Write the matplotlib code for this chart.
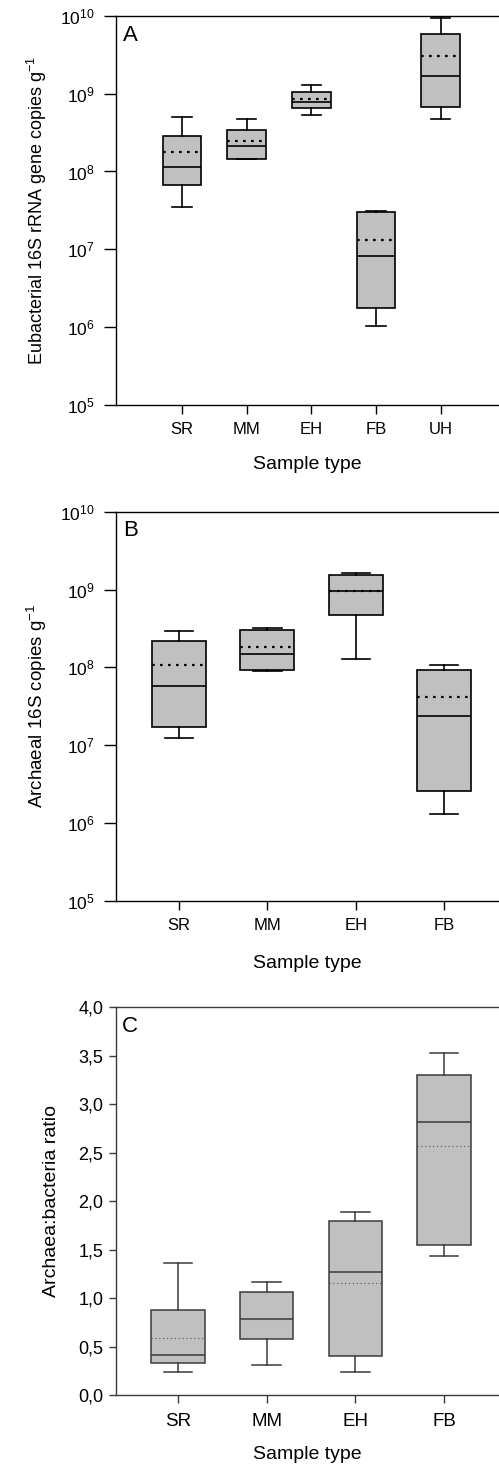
import numpy as np
import matplotlib
matplotlib.use('Agg')
import matplotlib.pyplot as plt
from matplotlib.ticker import FixedLocator, FuncFormatter

plt.rcParams['font.family'] = ['Liberation Sans', 'DejaVu Sans']
plt.rcParams['mathtext.fontset'] = 'custom'
plt.rcParams['mathtext.rm'] = 'Liberation Sans'
plt.rcParams['mathtext.it'] = 'Liberation Sans:italic'

# ---- data ----
bact_types = ['SR', 'MM', 'EH', 'FB', 'UH']
bact_whislo = [3.5e7, 1.43e8, 5.3e8, 1.02e6, 4.7e8]
bact_q1 = [6.8e7, 1.43e8, 6.6e8, 1.76e6, 6.7e8]
bact_med = [1.13e8, 2.12e8, 7.8e8, 8.3e6, 1.71e9]
bact_mean = [1.76e8, 2.48e8, 8.45e8, 1.33e7, 3.08e9]
bact_q3 = [2.9e8, 3.4e8, 1.04e9, 3.0e7, 5.8e9]
bact_whishi = [5.0e8, 4.8e8, 1.31e9, 3.1e7, 9.4e9]

arch_types = ['SR', 'MM', 'EH', 'FB']
arch_whislo = [1.23e7, 9.0e7, 1.26e8, 1.32e6]
arch_q1 = [1.73e7, 9.3e7, 4.75e8, 2.6e6]
arch_med = [5.8e7, 1.5e8, 9.7e8, 2.35e7]
arch_mean = [1.06e8, 1.83e8, 9.5e8, 4.1e7]
arch_q3 = [2.2e8, 3.0e8, 1.52e9, 9.3e7]
arch_whishi = [2.9e8, 3.2e8, 1.64e9, 1.08e8]

ratio_types = ['SR', 'MM', 'EH', 'FB']
ratio_whislo = [0.24, 0.31, 0.24, 1.44]
ratio_q1 = [0.33, 0.58, 0.41, 1.55]
ratio_med = [0.42, 0.79, 1.27, 2.82]
ratio_mean = [0.59, 0.79, 1.155, 2.57]
ratio_q3 = [0.88, 1.07, 1.80, 3.30]
ratio_whishi = [1.36, 1.165, 1.89, 3.53]


def make_stats(types, lo, q1, med, mean, q3, hi):
    return [dict(label=t, whislo=a, q1=b, med=c, mean=d, q3=e, whishi=f, fliers=[])
            for t, a, b, c, d, e, f in zip(types, lo, q1, med, mean, q3, hi)]


fig = plt.figure(figsize=(4.99, 14.70), dpi=100)
W, H = 499.0, 1470.0


def add_ax(left, top, bottom):
    return fig.add_axes([left / W, 1 - bottom / H, 1.0 - left / W, (bottom - top) / H])


def style_ax(ax, col='black', tl=8.5, xtl=6.5):
    ax.spines['right'].set_visible(False)
    for s in ['left', 'bottom', 'top']:
        ax.spines[s].set_color(col)
        ax.spines[s].set_linewidth(1.0)
    ax.tick_params(axis='both', which='major', direction='out', color=col, width=1.0)
    ax.tick_params(axis='y', length=tl)
    ax.tick_params(axis='x', length=xtl)
    ax.tick_params(which='minor', left=False, bottom=False)


def draw_log_panel(ax, stats, letter, ylabel, xlim, width, capw, fs_ylab, ylpad, xlpad):
    pos = np.arange(1, len(stats) + 1)
    ax.bxp(stats, positions=pos, widths=width, capwidths=capw, showmeans=True, meanline=True,
           showfliers=False, patch_artist=True,
           boxprops=dict(facecolor='#c0c0c0', edgecolor='black', linewidth=1.2),
           medianprops=dict(color='black', linewidth=1.2),
           meanprops=dict(color='black', linewidth=1.6, linestyle=(0, (1.2, 2.4))),
           whiskerprops=dict(color='black', linewidth=1.2),
           capprops=dict(color='black', linewidth=1.2))
    ax.set_yscale('log')
    ax.set_ylim(1e5, 1e10)
    ax.yaxis.set_major_locator(FixedLocator([1e5, 1e6, 1e7, 1e8, 1e9, 1e10]))
    ax.yaxis.set_major_formatter(FuncFormatter(lambda v, p: r'$\mathdefault{10^{%d}}$' % round(np.log10(v))))
    ax.set_xlim(*xlim)
    style_ax(ax)
    ax.tick_params(axis='y', labelsize=12.5, pad=7)
    ax.tick_params(axis='x', labelsize=12, pad=6)
    ax.set_xlabel('Sample type', fontsize=14, labelpad=xlpad)
    ax.set_ylabel(ylabel, fontsize=fs_ylab, labelpad=ylpad)
    ax.text(0.017, 0.978, letter, transform=ax.transAxes, ha='left', va='top', fontsize=16)


axA = add_ax(116, 16, 404.7)
draw_log_panel(axA, make_stats(bact_types, bact_whislo, bact_q1, bact_med, bact_mean, bact_q3, bact_whishi),
               'A', 'Eubacterial 16S rRNA gene copies g$^{-1}$', (-0.02, 5.9), 0.6, 0.3, 13, 8, 13.5)

axB = add_ax(116.3, 511.7, 900.7)
draw_log_panel(axB, make_stats(arch_types, arch_whislo, arch_q1, arch_med, arch_mean, arch_q3, arch_whishi),
               'B', 'Archaeal 16S copies g$^{-1}$', (0.29, 4.62), 0.61, 0.32, 13.5, 8, 15.5)

# ---- panel C ----
axC = add_ax(115.7, 1007.3, 1395.3)
gc = '#3a3a3a'
statsC = make_stats(ratio_types, ratio_whislo, ratio_q1, ratio_med, ratio_mean, ratio_q3, ratio_whishi)
axC.bxp(statsC, positions=np.arange(1, 5), widths=0.6, capwidths=0.32, showmeans=True, meanline=True,
        showfliers=False, patch_artist=True,
        boxprops=dict(facecolor='#c0c0c0', edgecolor=gc, linewidth=1.1),
        medianprops=dict(color=gc, linewidth=1.1),
        meanprops=dict(color='#555555', linewidth=0.8, linestyle=(0, (1, 2.5))),
        whiskerprops=dict(color=gc, linewidth=1.1),
        capprops=dict(color=gc, linewidth=1.1))
axC.set_ylim(0, 4.0)
axC.set_xlim(0.298, 4.62)
axC.yaxis.set_major_locator(FixedLocator(np.arange(0, 4.01, 0.5)))
axC.yaxis.set_major_formatter(FuncFormatter(lambda v, p: ('%.1f' % v).replace('.', ',')))
style_ax(axC, col=gc, tl=5, xtl=6)
axC.tick_params(axis='y', labelsize=13, pad=4)
axC.tick_params(axis='x', labelsize=13.5, pad=7)
axC.set_xlabel('Sample type', fontsize=14, labelpad=11.5)
axC.set_ylabel('Archaea:bacteria ratio', fontsize=14, labelpad=13)
axC.text(0.017, 0.978, 'C', transform=axC.transAxes, ha='left', va='top', fontsize=16)

fig.savefig('out.png', dpi=100)
